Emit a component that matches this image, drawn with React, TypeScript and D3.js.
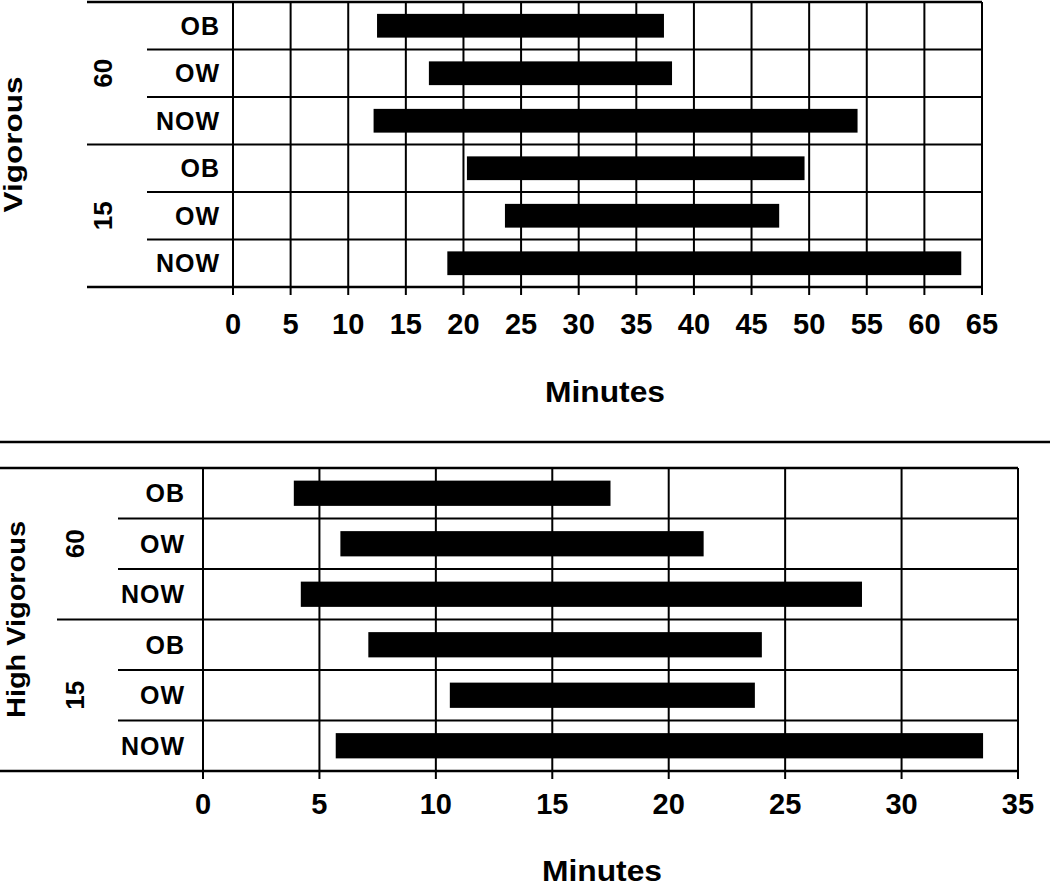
import React, { useEffect, useRef } from "react";
import * as d3 from "d3";

// intensity groups and weight status rows
const groups = ["60", "15"];
const weights = ["OB", "OW", "NOW"];

// Vigorous panel (minutes), rows: 60 OB, 60 OW, 60 NOW, 15 OB, 15 OW, 15 NOW
const vigStart = [12.5, 17.0, 12.2, 20.3, 23.6, 18.6];
const vigEnd = [37.4, 38.1, 54.2, 49.6, 47.4, 63.2];
const vigTicks = [0, 5, 10, 15, 20, 25, 30, 35, 40, 45, 50, 55, 60, 65];

// High Vigorous panel (minutes)
const highStart = [3.9, 5.9, 4.2, 7.1, 10.6, 5.7];
const highEnd = [17.5, 21.5, 28.3, 24.0, 23.7, 33.5];
const highTicks = [0, 5, 10, 15, 20, 25, 30, 35];

const FONT = "'Liberation Sans', Arial, Helvetica, sans-serif";

const drawPanel = (svg, o) => {
  const keys = groups.flatMap(g => weights.map(w => g + "|" + w));
  const x = d3.scaleLinear().domain([0, o.ticks[o.ticks.length - 1]]).range([o.x0, o.x1]);
  const rows = d3.scaleBand().domain(keys).range([o.y0, o.y1]).padding(0);
  const step = rows.step();
  const barH = step * 0.5;

  const g = svg.append("g");

  // vertical grid lines + tick marks
  g.append("g")
    .selectAll("line")
    .data(o.ticks)
    .join("line")
      .attr("x1", d => x(d))
      .attr("x2", d => x(d))
      .attr("y1", o.y0)
      .attr("y2", o.y1 + 8)
      .attr("stroke", "#000")
      .attr("stroke-width", 2);

  // horizontal row lines
  const bounds = d3.range(keys.length + 1);
  g.append("g")
    .selectAll("line")
    .data(bounds)
    .join("line")
      .attr("x1", i => (i === 0 || i === keys.length) ? o.outerX : (i % weights.length === 0 ? o.groupX : o.subX))
      .attr("x2", o.x1)
      .attr("y1", i => o.y0 + i * step)
      .attr("y2", i => o.y0 + i * step)
      .attr("stroke", "#000")
      .attr("stroke-width", i => (i === 0 || i === keys.length) ? 2.5 : 2);

  // bars
  g.append("g")
    .selectAll("rect")
    .data(keys)
    .join("rect")
      .attr("x", (d, i) => x(o.start[i]))
      .attr("width", (d, i) => x(o.end[i]) - x(o.start[i]))
      .attr("y", d => rows(d) + (step - barH) / 2)
      .attr("height", barH)
      .attr("fill", "#000");

  // weight labels
  g.append("g")
    .selectAll("text")
    .data(keys)
    .join("text")
      .attr("x", o.labelRight)
      .attr("y", d => rows(d) + step / 2)
      .attr("dy", "0.36em")
      .attr("text-anchor", "end")
      .attr("font-family", FONT)
      .attr("font-weight", "bold")
      .attr("font-size", 25)
      .attr("letter-spacing", 1)
      .text(d => d.split("|")[1]);

  // group labels (rotated)
  g.append("g")
    .selectAll("text")
    .data(groups)
    .join("text")
      .attr("transform", (d, i) => `translate(${o.groupLabelX},${o.y0 + (i + 0.5) * step * weights.length}) rotate(-90)`)
      .attr("dy", "0.36em")
      .attr("text-anchor", "middle")
      .attr("font-family", FONT)
      .attr("font-weight", "bold")
      .attr("font-size", 26)
      .text(d => d);

  // tick labels
  g.append("g")
    .selectAll("text")
    .data(o.ticks)
    .join("text")
      .attr("x", d => x(d))
      .attr("y", o.tickY)
      .attr("text-anchor", "middle")
      .attr("font-family", FONT)
      .attr("font-weight", "bold")
      .attr("font-size", 29)
      .text(d => d);

  // axis title
  g.append("text")
    .attr("x", o.minutesX)
    .attr("y", o.minutesY)
    .attr("text-anchor", "middle")
    .attr("font-family", FONT)
    .attr("font-weight", "bold")
    .attr("font-size", 29)
    .attr("textLength", 120)
    .attr("lengthAdjust", "spacingAndGlyphs")
    .text("Minutes");

  // panel title (rotated)
  g.append("text")
    .attr("transform", `translate(${o.titleX},${(o.y0 + o.y1) / 2}) rotate(-90)`)
    .attr("text-anchor", "middle")
    .attr("font-family", FONT)
    .attr("font-weight", "bold")
    .attr("font-size", 25)
    .attr("textLength", o.titleLen)
    .attr("lengthAdjust", "spacingAndGlyphs")
    .text(o.title);
};

const App = () => {
  const ref = useRef(null);

  useEffect(() => {
    const svg = d3.select(ref.current);
    svg.selectAll("*").remove();

    svg.append("rect").attr("width", 1050).attr("height", 887).attr("fill", "#fff");

    drawPanel(svg, {
      title: "Vigorous", titleX: 22, titleLen: 136,
      start: vigStart, end: vigEnd, ticks: vigTicks,
      x0: 233, x1: 982, y0: 2, y1: 287,
      outerX: 87, groupX: 87, subX: 147,
      labelRight: 220, groupLabelX: 103,
      tickY: 334, minutesX: 605, minutesY: 402
    });

    // separator between panels
    svg.append("line")
      .attr("x1", 0).attr("x2", 1050)
      .attr("y1", 442).attr("y2", 442)
      .attr("stroke", "#000").attr("stroke-width", 2.5);

    drawPanel(svg, {
      title: "High Vigorous", titleX: 25, titleLen: 197,
      start: highStart, end: highEnd, ticks: highTicks,
      x0: 203, x1: 1018, y0: 468, y1: 771,
      outerX: 0, groupX: 57, subX: 118,
      labelRight: 185, groupLabelX: 75,
      tickY: 814, minutesX: 602, minutesY: 881
    });
  }, []);

  return (
    <svg
      ref={ref}
      width={1050}
      height={887}
      style={{ position: "absolute", left: 0, top: 0, display: "block" }}
    />
  );
};

export default App;
